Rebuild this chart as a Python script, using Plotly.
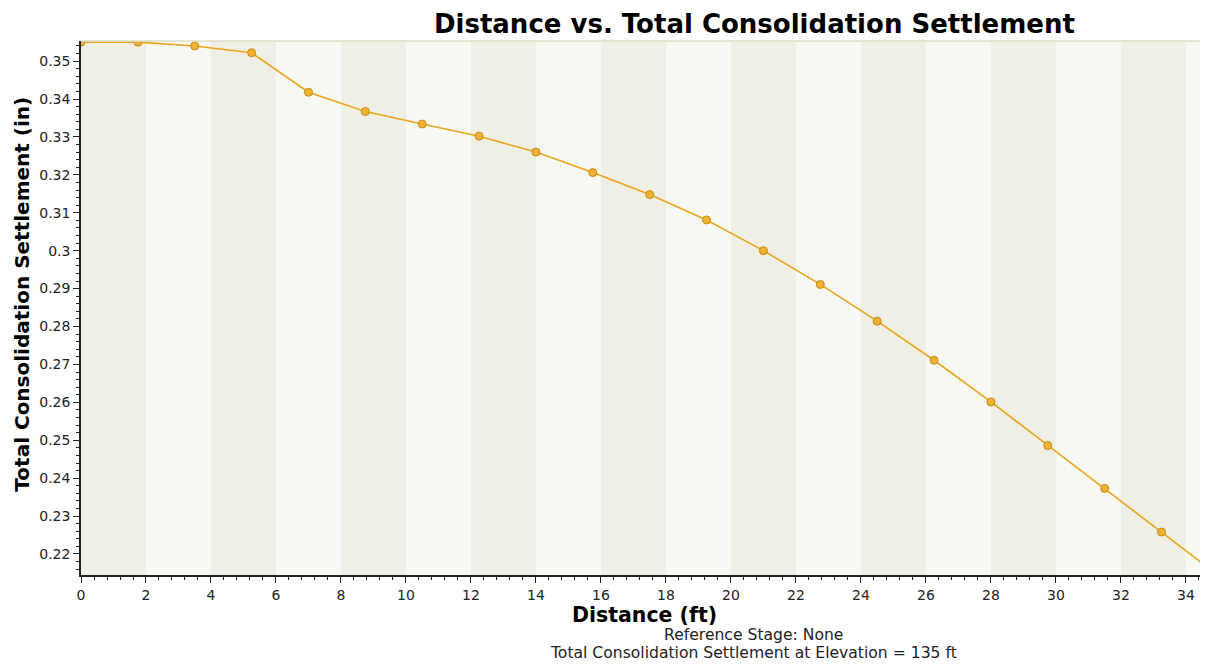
import plotly.graph_objects as go

# Data
distance_ft = [0, 1.75, 3.5, 5.25, 7, 8.75, 10.5, 12.25, 14, 15.75, 17.5,
               19.25, 21, 22.75, 24.5, 26.25, 28, 29.75, 31.5, 33.25, 35]
settlement_in = [0.3550, 0.3550, 0.3540, 0.3522, 0.3418, 0.3367, 0.3334, 0.3302,
                 0.3260, 0.3206, 0.3148, 0.3081, 0.3000, 0.2911, 0.2814, 0.2711,
                 0.2601, 0.2486, 0.2373, 0.2258, 0.2143]

x_range = [0, 34.68]
y_range = [0.21446, 0.3553]
band_starts = list(range(0, 36, 2))

title_text = "Distance vs. Total Consolidation Settlement"
x_title = "Distance (ft)"
y_title = "Total Consolidation Settlement (in)"
notes = ["Reference Stage: None", "Total Consolidation Settlement at Elevation = 135 ft"]

FONT = "DejaVu Sans, Verdana, sans-serif"

fig = go.Figure()

shapes = []
for i, x0 in enumerate(band_starts):
    color = "#f0efe5" if i % 2 == 0 else "#f8f8f4"
    shapes.append(dict(type="rect", xref="x", yref="paper", x0=x0, x1=x0 + 2,
                       y0=0, y1=1, fillcolor=color, line=dict(width=0), layer="below"))
shapes.append(dict(type="line", xref="paper", yref="paper", x0=0, x1=1, y0=1, y1=1,
                   line=dict(color="#dcdcc6", width=1.5)))

fig.add_trace(go.Scatter(
    x=distance_ft, y=settlement_in, mode="lines+markers",
    line=dict(color="#eba41a", width=1.6),
    marker=dict(size=8, color="#f0b234", line=dict(color="#c58b12", width=1)),
    cliponaxis=True, showlegend=False,
))

annotations = [
    dict(text=notes[0], xref="paper", yref="paper", x=0.597, y=-0.1124,
         xanchor="center", yanchor="middle", showarrow=False,
         font=dict(family=FONT, size=15.6, color="#222")),
    dict(text=notes[1], xref="paper", yref="paper", x=0.597, y=-0.146,
         xanchor="center", yanchor="middle", showarrow=False,
         font=dict(family=FONT, size=15.6, color="#222")),
    dict(text="<b>" + y_title + "</b>", xref="paper", yref="paper", x=0, xshift=-59,
         y=0.525, xanchor="center", yanchor="middle", textangle=-90, showarrow=False,
         font=dict(family=FONT, size=20, color="black")),
]

fig.update_layout(
    width=1200, height=658,
    margin=dict(l=73, r=0, t=33, b=91, autoexpand=False),
    paper_bgcolor="white", plot_bgcolor="#f8f8f4",
    title=dict(text="<b>" + title_text + "</b>", x=0.622, xref="container",
               xanchor="center", y=0.99, yanchor="top", pad=dict(t=0, b=0),
               font=dict(family=FONT, size=26, color="black")),
    shapes=shapes, annotations=annotations,
    xaxis=dict(range=x_range, dtick=2, tick0=0, showgrid=False, zeroline=False,
               automargin=False,
               showline=True, linecolor="#222", linewidth=1.5,
               ticks="outside", ticklen=6, tickcolor="#222",
               minor=dict(ticks="outside", dtick=0.4, ticklen=3, tickcolor="#222"),
               tickfont=dict(family=FONT, size=14, color="#222"),
               title=dict(text="<b>" + x_title + "</b>", standoff=0,
                          font=dict(family=FONT, size=20.5, color="black"))),
    yaxis=dict(range=y_range, dtick=0.01, tick0=0, tickformat=".2~f",
               showgrid=False, zeroline=False, automargin=False,
               showline=True, linecolor="#222", linewidth=1.5,
               ticks="outside", ticklen=6, tickcolor="#222",
               minor=dict(ticks="outside", dtick=0.002, ticklen=3, tickcolor="#222"),
               tickfont=dict(family=FONT, size=14, color="#222")),
)

fig.write_html("out.html")
